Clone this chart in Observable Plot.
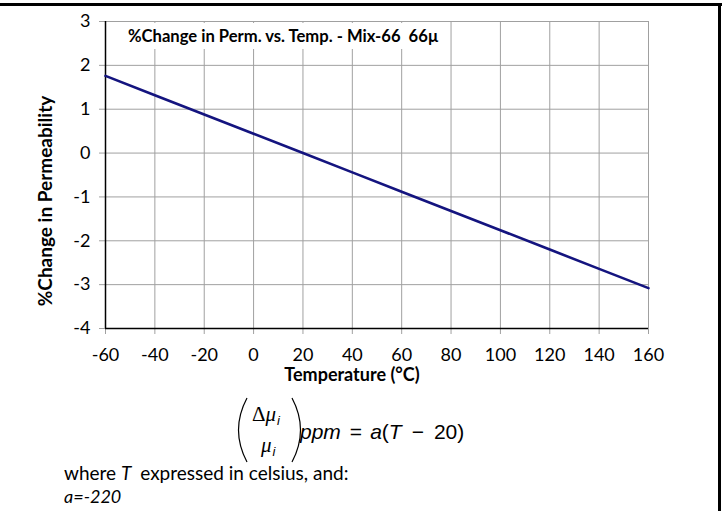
<!DOCTYPE html>
<html><head><meta charset="utf-8">
<script src="https://cdn.jsdelivr.net/npm/d3@7"></script>
<script src="https://cdn.jsdelivr.net/npm/@observablehq/plot@0.6"></script>
<style>
body{margin:0;background:#fff;}
#wrap{position:relative;width:722px;height:511px;overflow:hidden;font-family:Lato,"Open Sans",sans-serif;color:#000;}
#chart{position:absolute;left:0;top:0;}
#btop{position:absolute;left:0;top:3px;width:722px;height:3px;background:#000;}
#bright{position:absolute;left:718px;top:3px;width:3px;height:510px;background:#000;}
#title{position:absolute;left:108px;top:23px;width:337px;height:26px;background:#fff;font-weight:bold;font-size:16.6px;line-height:26px;padding-left:20px;box-sizing:border-box;white-space:pre;}
#formula{position:absolute;left:0;top:380px;}
</style></head>
<body>
<div id="wrap">
  <div id="chart"></div>
  <div id="title"></div>
  <div id="btop"></div>
  <div id="bright"></div>
  <svg id="formula" width="722" height="131" viewBox="0 380 722 131"></svg>
</div>
<script>
// ---- data ----
const temperatures = [-60, -40, -20, 0, 20, 40, 60, 80, 100, 120, 140, 160];
const pctChange = [1.76, 1.32, 0.88, 0.44, 0, -0.44, -0.88, -1.32, -1.76, -2.2, -2.64, -3.08];
const xTicks = [-60, -40, -20, 0, 20, 40, 60, 80, 100, 120, 140, 160];
const yTicks = [-4, -3, -2, -1, 0, 1, 2, 3];
const chartTitle = "%Change in Perm. vs. Temp. - Mix-66  66\u00b5";
const xLabel = "Temperature (\u00b0C)";
const yLabel = "%Change in Permeability";

const rows = temperatures.map((t, i) => ({t, v: pctChange[i]}));
const gridColor = "#a0a0a0";

const plot = Plot.plot({
  width: 722,
  height: 390,
  marginLeft: 105,
  marginRight: 74,
  marginTop: 21,
  marginBottom: 62,
  style: {fontFamily: "Lato, sans-serif", fontSize: "18px", color: "#000", background: "transparent"},
  x: {domain: [d3.min(xTicks), d3.max(xTicks)]},
  y: {domain: [d3.min(yTicks), d3.max(yTicks)]},
  marks: [
    Plot.gridX(xTicks, {stroke: gridColor, strokeOpacity: 1}),
    Plot.gridY(yTicks, {stroke: gridColor, strokeOpacity: 1}),
    Plot.axisX(xTicks, {tickSize: 6, tickPadding: 14, stroke: gridColor, fill: "#000", label: null, fontSize: 18, tickFormat: d => String(d)}),
    Plot.axisY(yTicks, {tickSize: 6, tickPadding: 9, stroke: gridColor, fill: "#000", label: null, fontSize: 18, tickFormat: d => String(d)}),
    Plot.ruleX(xTicks.slice(0, 1), {stroke: "#000", strokeWidth: 1.5}),
    Plot.ruleY(yTicks.slice(0, 1), {stroke: "#000", strokeWidth: 1.5}),
    Plot.line(rows, {x: "t", y: "v", stroke: "#14147f", strokeWidth: 2.6}),
    Plot.text([xLabel], {text: d => d, frameAnchor: "bottom", textAnchor: "middle", dx: -25, dy: 47, lineAnchor: "middle", fontWeight: "bold", fontSize: 18}),
    Plot.text([yLabel], {text: d => d, frameAnchor: "left", textAnchor: "middle", rotate: -90, dx: -60, dy: 26, lineAnchor: "middle", fontWeight: "bold", fontSize: 19})
  ]
});
document.getElementById("chart").appendChild(plot);
document.getElementById("title").textContent = chartTitle;

// ---- formula & notes ----
const f = d3.select("#formula");
f.append("path").attr("d", "M247,398 Q230,430 247,462").attr("fill", "none").attr("stroke", "#000").attr("stroke-width", 1.2);
f.append("path").attr("d", "M292,398 Q309,430 292,462").attr("fill", "none").attr("stroke", "#000").attr("stroke-width", 1.2);
const num = f.append("text").attr("x", 252).attr("y", 421).attr("font-size", 21);
num.append("tspan").attr("font-family", "Liberation Serif, serif").text("\u0394");
num.append("tspan").attr("font-family", "Liberation Serif, serif").attr("font-style", "italic").text("\u03bc");
num.append("tspan").attr("font-family", "Liberation Sans, sans-serif").attr("font-style", "italic").attr("font-size", 13).attr("dy", 4).attr("dx", 1).text("i");
const den = f.append("text").attr("x", 261).attr("y", 452).attr("font-size", 21);
den.append("tspan").attr("font-family", "Liberation Serif, serif").attr("font-style", "italic").text("\u03bc");
den.append("tspan").attr("font-family", "Liberation Sans, sans-serif").attr("font-style", "italic").attr("font-size", 13).attr("dy", 4).attr("dx", 1).text("i");
const rhs = f.append("text").attr("x", 300).attr("y", 439).attr("font-size", 21).attr("font-family", "Liberation Sans, sans-serif");
rhs.append("tspan").attr("font-style", "italic").text("ppm");
rhs.append("tspan").attr("dx", 9).text("=");
rhs.append("tspan").attr("dx", 8).attr("font-style", "italic").text("a");
rhs.append("tspan").text("(");
rhs.append("tspan").attr("font-style", "italic").text("T");
rhs.append("tspan").attr("dx", 10).text("\u2212");
rhs.append("tspan").attr("dx", 10).text("20)");

const note = f.append("text").attr("x", 64).attr("y", 480).attr("font-size", 19).attr("font-family", "Lato, sans-serif");
note.append("tspan").text("where ");
note.append("tspan").attr("font-style", "italic").text("T");
note.append("tspan").attr("dx", 4).text(" expressed in celsius, and:");
f.append("text").attr("x", 64).attr("y", 503).attr("font-size", 18).attr("font-family", "Lato, sans-serif").attr("font-style", "italic").text("a=-220");
</script>
</body></html>
